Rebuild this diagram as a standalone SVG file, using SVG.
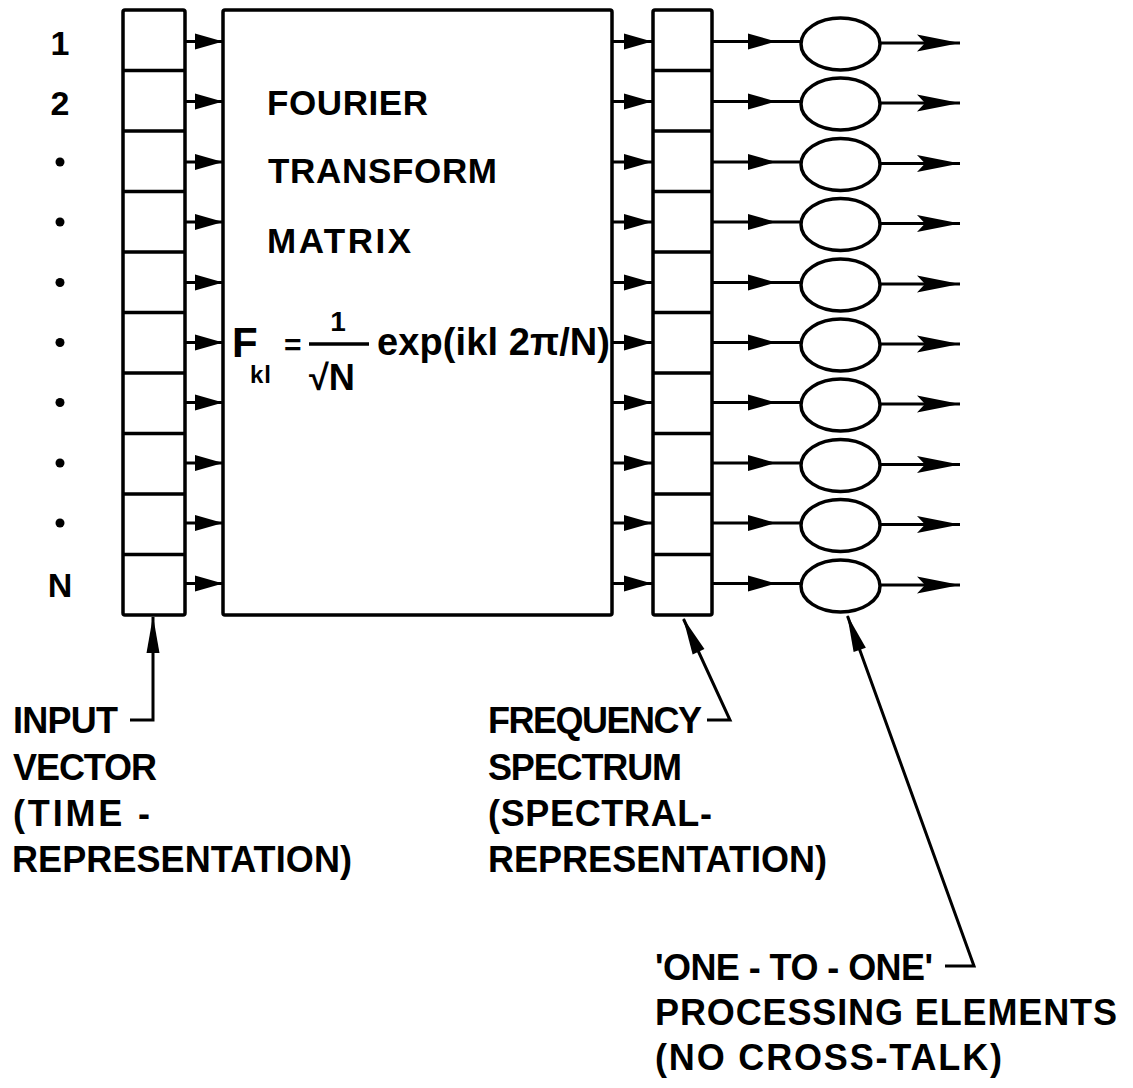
<svg xmlns="http://www.w3.org/2000/svg" width="1133" height="1088" viewBox="0 0 1133 1088">
<style>
.box{fill:none;stroke:#000;stroke-width:3.5;stroke-linejoin:round}
.div{stroke:#000;stroke-width:3.5}
.ell{fill:none;stroke:#000;stroke-width:3.5}
.con{fill:none;stroke:#000;stroke-width:3}
.t{font-family:"Liberation Sans",Arial,sans-serif;font-weight:bold;fill:#000}
.lab{font-size:36px}
.num{font-size:34px}
.mt{font-size:35px}
</style>
<defs>
<marker id="tri" markerUnits="userSpaceOnUse" markerWidth="40" markerHeight="20" refX="0" refY="0" orient="auto" style="overflow:visible"><path d="M0,0 L-28,-8 L-28,8 Z" fill="#000"/></marker>
<marker id="barb" markerUnits="userSpaceOnUse" markerWidth="50" markerHeight="20" refX="0" refY="0" orient="auto" style="overflow:visible"><path d="M0,0 L-43,-8.5 L-35,0 L-43,8.5 Z" fill="#000"/></marker>
<marker id="head" markerUnits="userSpaceOnUse" markerWidth="40" markerHeight="20" refX="0" refY="0" orient="auto" style="overflow:visible"><path d="M1,0 L-36,-6.5 L-36,6.5 Z" fill="#000"/></marker>
</defs>
<rect width="1133" height="1088" fill="#fff"/>

<g id="index-labels" class="t num" text-anchor="middle">
<text x="60" y="55">1</text>
<text x="60" y="115">2</text>
<text x="60" y="597">N</text>
</g>
<g id="index-dots" fill="#000">
<circle cx="60" cy="162" r="4.5"/>
<circle cx="60" cy="222" r="4.5"/>
<circle cx="60" cy="282.5" r="4.5"/>
<circle cx="60" cy="342.5" r="4.5"/>
<circle cx="60" cy="402.5" r="4.5"/>
<circle cx="60" cy="463" r="4.5"/>
<circle cx="60" cy="523" r="4.5"/>
</g>

<g id="input-vector">
<rect class="box" x="123" y="10" width="62" height="605" rx="2"/>
<path class="div" d="M123,70.5H185M123,131H185M123,191.5H185M123,252H185M123,312.5H185M123,373H185M123,433.5H185M123,494H185M123,554.5H185"/>
</g>

<g id="fourier-matrix">
<rect class="box" x="223" y="10" width="389" height="605" rx="2"/>
<text class="t mt" x="267" y="115" textLength="161" lengthAdjust="spacing">FOURIER</text>
<text class="t mt" x="268" y="183" textLength="229" lengthAdjust="spacing">TRANSFORM</text>
<text class="t mt" x="267" y="253" textLength="144" lengthAdjust="spacing">MATRIX</text>
<g id="formula">
<text class="t" x="232" y="357" font-size="42">F</text>
<text class="t" x="250" y="383" font-size="24" letter-spacing="1">kl</text>
<text class="t" x="284" y="355" font-size="30">=</text>
<text class="t" x="338" y="331" font-size="28" text-anchor="middle">1</text>
<line x1="309" y1="344" x2="369" y2="344" stroke="#000" stroke-width="3.5"/>
<text class="t" x="309" y="390" font-size="36" textLength="46" lengthAdjust="spacingAndGlyphs">√N</text>
<text class="t" x="377" y="355" font-size="38" textLength="233" lengthAdjust="spacing">exp(ikl 2π/N)</text>
</g>
</g>

<g id="frequency-spectrum">
<rect class="box" x="653" y="10" width="59" height="605" rx="2"/>
<path class="div" d="M653,70.5H712M653,131H712M653,191.5H712M653,252H712M653,312.5H712M653,373H712M653,433.5H712M653,494H712M653,554.5H712"/>
</g>

<g id="pe-1"><ellipse class="ell" cx="840.5" cy="44" rx="39.5" ry="26"/></g>
<g id="pe-2"><ellipse class="ell" cx="840.5" cy="104" rx="39.5" ry="26"/></g>
<g id="pe-3"><ellipse class="ell" cx="840.5" cy="164.5" rx="39.5" ry="26"/></g>
<g id="pe-4"><ellipse class="ell" cx="840.5" cy="224.5" rx="39.5" ry="26"/></g>
<g id="pe-5"><ellipse class="ell" cx="840.5" cy="285" rx="39.5" ry="26"/></g>
<g id="pe-6"><ellipse class="ell" cx="840.5" cy="345" rx="39.5" ry="26"/></g>
<g id="pe-7"><ellipse class="ell" cx="840.5" cy="405" rx="39.5" ry="26"/></g>
<g id="pe-8"><ellipse class="ell" cx="840.5" cy="465.5" rx="39.5" ry="26"/></g>
<g id="pe-9"><ellipse class="ell" cx="840.5" cy="525.5" rx="39.5" ry="26"/></g>
<g id="pe-10"><ellipse class="ell" cx="840.5" cy="586" rx="39.5" ry="26"/></g>

<g id="connectors">
<g class="con" marker-end="url(#tri)">
<path d="M185,41.5H223"/><path d="M185,101.5H223"/><path d="M185,162H223"/><path d="M185,222H223"/><path d="M185,282.5H223"/>
<path d="M185,342.5H223"/><path d="M185,402.5H223"/><path d="M185,463H223"/><path d="M185,523H223"/><path d="M185,583.5H223"/>
<path d="M612,41.5H652"/><path d="M612,101.5H652"/><path d="M612,162H652"/><path d="M612,222H652"/><path d="M612,282.5H652"/>
<path d="M612,342.5H652"/><path d="M612,402.5H652"/><path d="M612,463H652"/><path d="M612,523H652"/><path d="M612,583.5H652"/>
</g>
<g class="con" marker-mid="url(#tri)">
<path d="M712,41.5L776,41.5L801,41.5"/><path d="M712,101.5L776,101.5L801,101.5"/><path d="M712,162L776,162L801,162"/>
<path d="M712,222L776,222L801,222"/><path d="M712,282.5L776,282.5L801,282.5"/><path d="M712,342.5L776,342.5L801,342.5"/>
<path d="M712,402.5L776,402.5L801,402.5"/><path d="M712,463L776,463L801,463"/><path d="M712,523L776,523L801,523"/>
<path d="M712,583.5L776,583.5L801,583.5"/>
</g>
<g class="con" marker-end="url(#barb)">
<path d="M880,43H960"/><path d="M880,103H960"/><path d="M880,163.5H960"/><path d="M880,223.5H960"/><path d="M880,284H960"/>
<path d="M880,344H960"/><path d="M880,404H960"/><path d="M880,464.5H960"/><path d="M880,524.5H960"/><path d="M880,585H960"/>
</g>
<g class="con" marker-end="url(#head)">
<path d="M130,720H153V617"/>
<path d="M707,720H730L683.5,619"/>
<path d="M945,966H974L847.5,616"/>
</g>
</g>

<g id="label-input" class="t lab">
<text x="13" y="733" textLength="105" lengthAdjust="spacing">INPUT</text>
<text x="13" y="780" textLength="144" lengthAdjust="spacing">VECTOR</text>
<text x="13" y="826" textLength="137" lengthAdjust="spacing">(TIME -</text>
<text x="12" y="872" textLength="340" lengthAdjust="spacing">REPRESENTATION)</text>
</g>
<g id="label-spectrum" class="t lab">
<text x="488" y="733" textLength="214" lengthAdjust="spacing">FREQUENCY</text>
<text x="488" y="780" textLength="194" lengthAdjust="spacing">SPECTRUM</text>
<text x="488" y="826" textLength="224" lengthAdjust="spacing">(SPECTRAL-</text>
<text x="488" y="872" textLength="339" lengthAdjust="spacing">REPRESENTATION)</text>
</g>
<g id="label-processing" class="t lab">
<text x="655" y="980" textLength="278" lengthAdjust="spacing">'ONE - TO - ONE'</text>
<text x="655" y="1025" textLength="462" lengthAdjust="spacing">PROCESSING ELEMENTS</text>
<text x="655" y="1070" textLength="347" lengthAdjust="spacing">(NO CROSS-TALK)</text>
</g>
</svg>
